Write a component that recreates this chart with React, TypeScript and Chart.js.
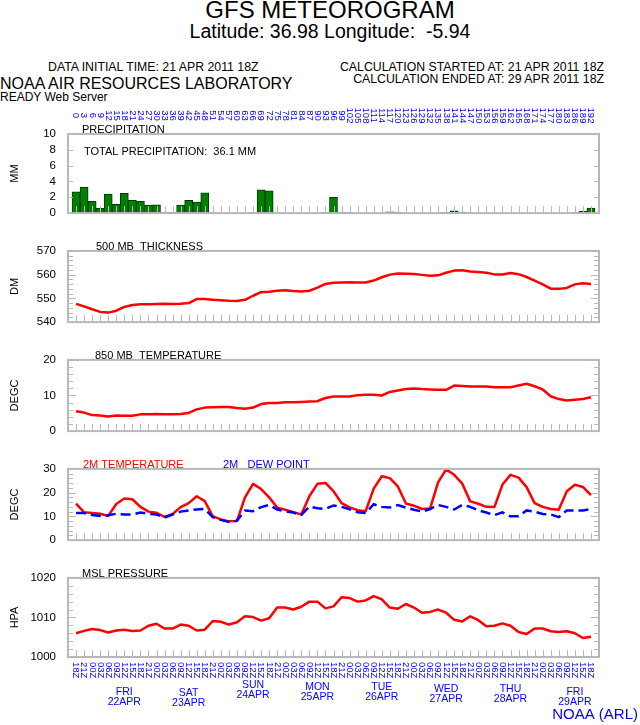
import React, { useEffect, useRef } from "react";
import { Chart, registerables } from "chart.js";

Chart.register(...registerables);

// ---------------- DATA ----------------
const HOURS = [
  0, 3, 6, 9, 12, 15, 18, 21, 24, 27, 30, 33, 36, 39, 42, 45, 48, 51, 54, 57,
  60, 63, 66, 69, 72, 75, 78, 81, 84, 87, 90, 93, 96, 99, 102, 105, 108, 111, 114, 117,
  120, 123, 126, 129, 132, 135, 138, 141, 144, 147, 150, 153, 156, 159, 162, 165, 168, 171, 174, 177,
  180, 183, 186, 189, 192,
];

const TIME_LABELS = [
  "18Z", "21Z", "00Z", "03Z", "06Z", "09Z", "12Z", "15Z",
  "18Z", "21Z", "00Z", "03Z", "06Z", "09Z", "12Z", "15Z",
  "18Z", "21Z", "00Z", "03Z", "06Z", "09Z", "12Z", "15Z",
  "18Z", "21Z", "00Z", "03Z", "06Z", "09Z", "12Z", "15Z",
  "18Z", "21Z", "00Z", "03Z", "06Z", "09Z", "12Z", "15Z",
  "18Z", "21Z", "00Z", "03Z", "06Z", "09Z", "12Z", "15Z",
  "18Z", "21Z", "00Z", "03Z", "06Z", "09Z", "12Z", "15Z",
  "18Z", "21Z", "00Z", "03Z", "06Z", "09Z", "12Z", "15Z",
  "18Z",
];

const PRECIP = [
  2.7, 3.3, 1.5, 0.6, 2.4, 1.1, 2.5, 1.6, 1.5, 1.0,
  1.05, 0.1, 0.1, 1.0, 1.6, 1.4, 2.55, 0, 0, 0,
  0, 0, 0.05, 2.95, 2.8, 0, 0, 0, 0, 0,
  0, 0.1, 2.0, 0.1, 0.05, 0, 0, 0, 0, 0.15,
  0.1, 0, 0, 0, 0, 0, 0.1, 0.3, 0.1, 0,
  0, 0, 0, 0, 0, 0, 0, 0, 0, 0,
  0, 0, 0.05, 0.25, 0.65,
];

const THICKNESS = [
  547.7, 546.6, 545.4, 544.3, 544.0, 544.8, 546.4, 547.2, 547.5, 547.5,
  547.6, 547.7, 547.6, 547.7, 548.0, 549.7, 549.7, 549.4, 549.2, 549.0,
  548.9, 549.4, 551.1, 552.6, 552.8, 553.2, 553.4, 553.1, 552.9, 553.2,
  554.5, 556.1, 556.6, 556.7, 556.8, 556.7, 556.7, 557.5, 558.9, 560.0,
  560.5, 560.4, 560.3, 559.9, 559.5, 559.7, 560.8, 561.7, 561.8, 561.3,
  561.1, 560.8, 560.1, 560.1, 560.7, 560.2, 559.0, 557.5, 555.9, 554.1,
  554.0, 554.4, 555.9, 556.4, 556.1,
];

const T850 = [
  5.6, 5.2, 4.5, 4.4, 4.1, 4.4, 4.3, 4.3, 4.7, 4.7,
  4.8, 4.7, 4.7, 4.8, 5.1, 6.1, 6.6, 6.7, 6.8, 6.8,
  6.5, 6.3, 6.6, 7.6, 7.9, 7.9, 8.1, 8.1, 8.2, 8.3,
  8.4, 9.3, 9.7, 9.7, 9.7, 10.1, 10.2, 10.2, 10.0, 11.0,
  11.4, 11.8, 12.0, 11.8, 11.7, 11.6, 11.6, 12.8, 12.7, 12.5,
  12.5, 12.5, 12.3, 12.3, 12.3, 12.8, 13.3, 12.6, 11.7, 9.8,
  9.0, 8.6, 8.8, 9.0, 9.5,
];

const T2M = [
  15.4, 11.7, 11.4, 11.1, 10.2, 15.2, 17.5, 17.2, 14.0, 12.0,
  11.5, 9.8, 11.0, 13.9, 15.6, 18.5, 16.4, 10.0, 8.7, 7.9,
  8.0, 18.0, 23.7, 21.5, 18.0, 13.7, 12.8, 11.8, 10.8, 18.5,
  23.7, 24.1, 20.6, 15.6, 13.8, 12.6, 12.2, 21.7, 26.9, 26.1,
  22.6, 15.4, 14.5, 13.1, 13.3, 24.3, 29.8, 27.5, 23.8, 16.3,
  15.3, 14.0, 13.9, 23.4, 27.5, 26.3, 22.3, 15.6, 14.0, 13.1,
  12.8, 20.6, 23.3, 22.4, 18.9,
];

const DEWPOINT = [
  11.4, 11.4, 10.6, 10.2, 10.5, 11.1, 10.8, 10.8, 11.6, 11.1,
  10.8, 9.5, 10.8, 12.0, 12.5, 12.9, 13.1, 9.7, 8.5, 7.6,
  8.2, 12.5, 12.2, 13.9, 14.8, 12.9, 12.1, 11.6, 10.6, 14.1,
  13.4, 13.1, 14.6, 14.0, 13.0, 11.7, 11.4, 15.1, 14.0, 13.7,
  14.8, 13.7, 12.8, 12.0, 13.1, 14.8, 14.0, 12.9, 14.8, 14.0,
  12.5, 11.6, 10.5, 11.7, 10.0, 10.0, 12.5, 12.0, 11.0, 10.8,
  9.7, 12.5, 12.5, 12.5, 13.1,
];

const MSLP = [
  1006.0, 1006.6, 1007.1, 1006.8, 1006.2, 1006.7, 1006.9, 1006.6, 1006.7, 1007.9,
  1008.4, 1007.2, 1007.2, 1008.2, 1007.9, 1006.7, 1006.9, 1009.1, 1008.9, 1008.2,
  1008.8, 1010.3, 1010.1, 1009.2, 1009.8, 1012.5, 1012.5, 1012.0, 1012.7, 1014.0,
  1014.0, 1012.3, 1012.8, 1015.1, 1014.9, 1014.0, 1014.3, 1015.4, 1014.6, 1012.5,
  1012.2, 1013.4, 1012.5, 1011.2, 1011.4, 1012.0, 1011.2, 1009.4, 1009.0, 1010.3,
  1009.3, 1007.8, 1007.9, 1008.5, 1007.9, 1006.3, 1005.8, 1007.2, 1007.2, 1006.5,
  1006.3, 1006.5, 1006.0, 1004.8, 1005.1,
];

const DAY_NAMES = ["FRI", "SAT", "SUN", "MON", "TUE", "WED", "THU", "FRI"];
const DAY_DATES = ["22APR", "23APR", "24APR", "25APR", "26APR", "27APR", "28APR", "29APR"];
const DAY_HOURS = [18, 42, 66, 90, 114, 138, 162, 186];

const TOTAL_PRECIP_TEXT = "TOTAL PRECIPITATION:  36.1 MM";

// ---------------- LAYOUT / STYLE ----------------
const FONT = "'Liberation Sans', Arial, Helvetica, sans-serif";
const BLUE = "#0000ff";
const RED = "#ff0000";
const FRAME = "#b8b8b8";
const AREA_LEFT = 68;
const AREA_RIGHT = 599;
const X_MIN = -3;
const X_MAX = 195;
const DAY_NAME_BASELINES = [695, 696, 688, 690, 690, 692, 692, 695];

const pts = (vals: number[]) => HOURS.map((h, i) => ({ x: h, y: vals[i] }));

type Title = { text: string; x: number; color?: string };
type PanelCfg = {
  kind: "bar" | "line";
  canvasTop: number;
  canvasBottom: number;
  areaTop: number;
  areaBottom: number;
  yMin: number;
  yMax: number;
  labelStep: number;
  minorStep: number;
  majorStep: number | null;
  yTitle: string;
  titles: Title[];
  datasets: any[];
  extra?: (ctx: CanvasRenderingContext2D, chart: any, cfg: PanelCfg) => void;
};

function rotatedText(ctx: CanvasRenderingContext2D, text: string, x: number, y: number, align: CanvasTextAlign) {
  ctx.save();
  ctx.translate(x, y);
  ctx.rotate(Math.PI / 2);
  ctx.textAlign = align;
  ctx.textBaseline = "middle";
  ctx.fillText(text, 0, 0);
  ctx.restore();
}

const PANELS: PanelCfg[] = [
  {
    kind: "bar",
    canvasTop: 95,
    canvasBottom: 232,
    areaTop: 134,
    areaBottom: 223,
    yMin: 0,
    yMax: 10,
    labelStep: 2,
    minorStep: 2,
    majorStep: null,
    yTitle: "MM",
    titles: [{ text: "PRECIPITATION", x: 82 }],
    datasets: [
      {
        type: "bar",
        data: pts(PRECIP),
        backgroundColor: "#008000",
        borderColor: "#003a00",
        borderWidth: 1,
        barPercentage: 1,
        categoryPercentage: 1,
      },
    ],
    extra: (ctx, chart, cfg) => {
      const x = chart.scales.x;
      ctx.fillStyle = "#000";
      ctx.font = `11px ${FONT}`;
      ctx.textAlign = "left";
      ctx.textBaseline = "alphabetic";
      ctx.fillText(TOTAL_PRECIP_TEXT, 84, 155 - cfg.canvasTop);
      ctx.fillStyle = BLUE;
      ctx.font = `9.5px ${FONT}`;
      HOURS.forEach((h) => {
        rotatedText(ctx, String(h), x.getPixelForValue(h), 115.5 - cfg.canvasTop, "center");
      });
    },
  },
  {
    kind: "line",
    canvasTop: 232,
    canvasBottom: 341,
    areaTop: 243,
    areaBottom: 331,
    yMin: 540,
    yMax: 570,
    labelStep: 10,
    minorStep: 2,
    majorStep: 10,
    yTitle: "DM",
    titles: [{ text: "500 MB  THICKNESS", x: 96 }],
    datasets: [
      { type: "line", data: pts(THICKNESS), borderColor: RED, borderWidth: 2.5, pointRadius: 0, borderJoinStyle: "round" },
    ],
  },
  {
    kind: "line",
    canvasTop: 341,
    canvasBottom: 450,
    areaTop: 353,
    areaBottom: 440,
    yMin: 0,
    yMax: 20,
    labelStep: 10,
    minorStep: 2,
    majorStep: 10,
    yTitle: "DEGC",
    titles: [{ text: "850 MB  TEMPERATURE", x: 95 }],
    datasets: [
      { type: "line", data: pts(T850), borderColor: RED, borderWidth: 2.5, pointRadius: 0, borderJoinStyle: "round" },
    ],
  },
  {
    kind: "line",
    canvasTop: 450,
    canvasBottom: 559,
    areaTop: 460,
    areaBottom: 548,
    yMin: 0,
    yMax: 30,
    labelStep: 10,
    minorStep: 2,
    majorStep: 10,
    yTitle: "DEGC",
    titles: [
      { text: "2M TEMPERATURE", x: 83, color: RED },
      { text: "2M   DEW POINT", x: 223, color: BLUE },
    ],
    datasets: [
      { type: "line", data: pts(DEWPOINT), borderColor: BLUE, borderWidth: 2.5, borderDash: [10, 5], pointRadius: 0 },
      { type: "line", data: pts(T2M), borderColor: RED, borderWidth: 2.5, pointRadius: 0, borderJoinStyle: "round" },
    ],
  },
  {
    kind: "line",
    canvasTop: 559,
    canvasBottom: 725,
    areaTop: 569,
    areaBottom: 657,
    yMin: 1000,
    yMax: 1020,
    labelStep: 10,
    minorStep: 2,
    majorStep: 10,
    yTitle: "HPA",
    titles: [{ text: "MSL PRESSURE", x: 82 }],
    datasets: [
      { type: "line", data: pts(MSLP), borderColor: RED, borderWidth: 2.5, pointRadius: 0, borderJoinStyle: "round" },
    ],
    extra: (ctx, chart, cfg) => {
      const x = chart.scales.x;
      ctx.fillStyle = BLUE;
      ctx.font = `9.5px ${FONT}`;
      HOURS.forEach((h, i) => {
        rotatedText(ctx, TIME_LABELS[i], x.getPixelForValue(h), 662 - cfg.canvasTop, "left");
      });
      ctx.font = `10.5px ${FONT}`;
      ctx.textAlign = "center";
      ctx.textBaseline = "alphabetic";
      DAY_HOURS.forEach((h, k) => {
        const px = x.getPixelForValue(h);
        const b = DAY_NAME_BASELINES[k] - cfg.canvasTop;
        ctx.fillText(DAY_NAMES[k], px, b);
        ctx.fillText(DAY_DATES[k], px, b + 10);
      });
      ctx.font = `15px ${FONT}`;
      ctx.textAlign = "right";
      ctx.fillText("NOAA (ARL)", 638, 719 - cfg.canvasTop);
    },
  },
];

function Panel({ cfg }: { cfg: PanelCfg }) {
  const ref = useRef<HTMLCanvasElement>(null);
  const height = cfg.canvasBottom - cfg.canvasTop;
  useEffect(() => {
    const canvas = ref.current;
    if (!canvas) return;
    const deco = {
      id: "deco",
      afterDraw(chart: any) {
        const { ctx, chartArea: a } = chart;
        const x = chart.scales.x;
        const y = chart.scales.y;
        ctx.save();
        ctx.strokeStyle = FRAME;
        ctx.lineWidth = 1;
        for (let v = cfg.yMin; v <= cfg.yMax + 1e-9; v += cfg.minorStep) {
          const py = Math.round(y.getPixelForValue(v)) + 0.5;
          const isMajor =
            cfg.majorStep !== null && Math.abs(v / cfg.majorStep - Math.round(v / cfg.majorStep)) < 1e-6;
          const len = isMajor ? 8 : 5;
          ctx.beginPath();
          ctx.moveTo(a.left, py);
          ctx.lineTo(a.left + len, py);
          ctx.moveTo(a.right - len, py);
          ctx.lineTo(a.right, py);
          ctx.stroke();
        }
        HOURS.forEach((h) => {
          const px = Math.round(x.getPixelForValue(h)) + 0.5;
          ctx.beginPath();
          ctx.moveTo(px, a.bottom);
          ctx.lineTo(px, a.bottom - 7);
          ctx.stroke();
        });
        ctx.lineWidth = 2;
        ctx.strokeRect(a.left, a.top, a.right - a.left, a.bottom - a.top);

        ctx.font = `11px ${FONT}`;
        ctx.textAlign = "left";
        ctx.textBaseline = "alphabetic";
        cfg.titles.forEach((t) => {
          ctx.fillStyle = t.color || "#000";
          ctx.fillText(t.text, t.x, a.top - 1);
        });

        ctx.save();
        ctx.fillStyle = "#000";
        ctx.font = `11px ${FONT}`;
        ctx.translate(15, (a.top + a.bottom) / 2);
        ctx.rotate(-Math.PI / 2);
        ctx.textAlign = "center";
        ctx.textBaseline = "middle";
        ctx.fillText(cfg.yTitle, 0, 0);
        ctx.restore();

        if (cfg.extra) cfg.extra(ctx, chart, cfg);
        ctx.restore();
      },
    };
    const chart = new Chart(canvas, {
      type: cfg.kind,
      data: { datasets: cfg.datasets },
      options: {
        animation: false,
        responsive: false,
        maintainAspectRatio: false,
        devicePixelRatio: 1,
        layout: {
          padding: {
            top: cfg.areaTop - cfg.canvasTop,
            bottom: cfg.canvasBottom - cfg.areaBottom,
            left: 0,
            right: 640 - AREA_RIGHT,
          },
        },
        plugins: { legend: { display: false }, tooltip: { enabled: false }, title: { display: false } },
        scales: {
          x: { type: "linear", min: X_MIN, max: X_MAX, display: false, offset: false },
          y: {
            type: "linear",
            min: cfg.yMin,
            max: cfg.yMax,
            afterFit: (s: any) => {
              s.width = AREA_LEFT;
            },
            grid: { display: false, drawTicks: false },
            border: { display: false },
            ticks: {
              stepSize: cfg.labelStep,
              padding: 12,
              color: "#000",
              font: { size: 11.5, family: FONT },
              callback: (v: any) => String(v),
            },
          },
        },
      } as any,
      plugins: [deco],
    });
    return () => chart.destroy();
  }, []);
  return (
    <canvas
      ref={ref}
      width={640}
      height={height}
      style={{ position: "absolute", left: 0, top: cfg.canvasTop, width: 640, height }}
    />
  );
}

function Label({
  text,
  x,
  baseline,
  size,
  align = "left",
  color = "#000",
}: {
  text: string;
  x: number;
  baseline: number;
  size: number;
  align?: "left" | "right" | "center";
  color?: string;
}) {
  const style: React.CSSProperties = {
    position: "absolute",
    top: baseline - 0.8465 * size,
    fontSize: size,
    lineHeight: `${size}px`,
    fontFamily: FONT,
    color,
    whiteSpace: "pre",
  };
  if (align === "left") style.left = x;
  else if (align === "right") style.right = 640 - x;
  else {
    style.left = x;
    style.transform = "translateX(-50%)";
  }
  return <div style={style}>{text}</div>;
}

export default function App() {
  return (
    <div style={{ position: "absolute", left: 0, top: 0, width: 640, height: 725, background: "#fff", overflow: "hidden" }}>
      <Label text="GFS METEOROGRAM" x={330} baseline={18} size={24} align="center" />
      <Label text="Latitude: 36.98 Longitude:  -5.94" x={330} baseline={39} size={19.5} align="center" />
      <Label text="DATA INITIAL TIME: 21 APR 2011 18Z" x={48} baseline={71} size={12.3} />
      <Label text="CALCULATION STARTED AT: 21 APR 2011 18Z" x={604} baseline={71} size={12.3} align="right" />
      <Label text="CALCULATION ENDED AT: 29 APR 2011 18Z" x={604} baseline={83} size={12.3} align="right" />
      <Label text="NOAA AIR RESOURCES LABORATORY" x={0} baseline={90} size={16} />
      <Label text="READY Web Server" x={0} baseline={101} size={12} />
      {PANELS.map((p, i) => (
        <Panel key={i} cfg={p} />
      ))}
    </div>
  );
}
